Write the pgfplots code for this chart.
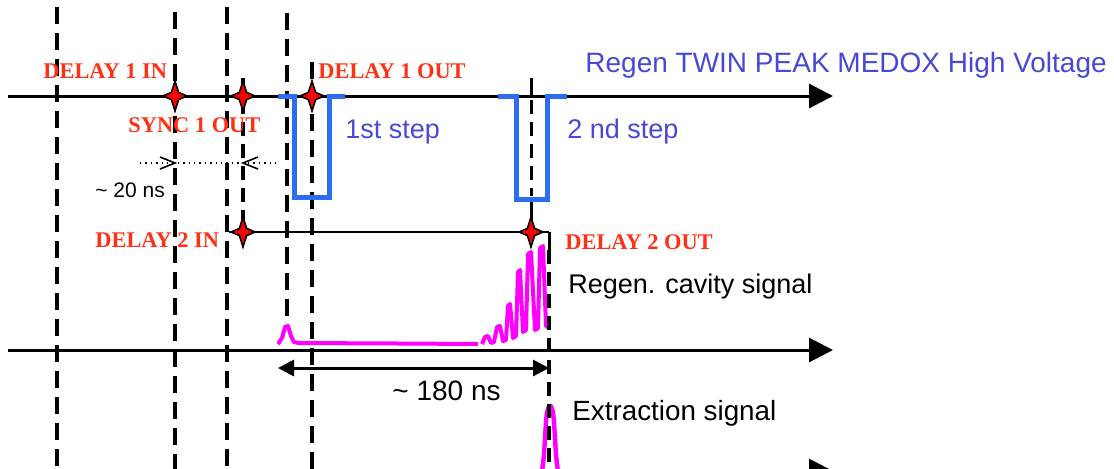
\documentclass[border=0pt]{standalone}
\usepackage{pgfplots}
\pgfplotsset{compat=1.18}
\usepackage{fontspec}
\setmainfont{Liberation Serif}
\newfontfamily\arial{Liberation Sans}
\usetikzlibrary{arrows.meta}
\definecolor{lblred}{RGB}{255,48,20}
\definecolor{txtblue}{RGB}{72,72,215}
\definecolor{pulseblue}{RGB}{45,110,240}
\definecolor{mag}{RGB}{255,0,255}
\pgfdeclareplotmark{star4}{%
  \pgfpathmoveto{\pgfpoint{0pt}{1.25\pgfplotmarksize}}%
  \pgfpathlineto{\pgfpoint{0.3\pgfplotmarksize}{0.3\pgfplotmarksize}}%
  \pgfpathlineto{\pgfpoint{\pgfplotmarksize}{0pt}}%
  \pgfpathlineto{\pgfpoint{0.3\pgfplotmarksize}{-0.3\pgfplotmarksize}}%
  \pgfpathlineto{\pgfpoint{0pt}{-1.25\pgfplotmarksize}}%
  \pgfpathlineto{\pgfpoint{-0.3\pgfplotmarksize}{-0.3\pgfplotmarksize}}%
  \pgfpathlineto{\pgfpoint{-\pgfplotmarksize}{0pt}}%
  \pgfpathlineto{\pgfpoint{-0.3\pgfplotmarksize}{0.3\pgfplotmarksize}}%
  \pgfpathclose
  \pgfusepathqfillstroke
}
\tikzset{
  red lbl/.style={anchor=base west, inner sep=0pt, text=lblred, font=\bfseries\fontsize{11.2}{13}\selectfont},
  blue lbl/.style={anchor=base west, inner sep=0pt, text=txtblue, font=\arial\fontsize{13.5}{16}\selectfont},
  blk lbl/.style={anchor=base west, inner sep=0pt, text=black, font=\arial\fontsize{13.5}{16}\selectfont},
}
\begin{document}
\begin{tikzpicture}
\begin{axis}[at={(0,0)}, anchor=south west, scale only axis,
  width=557pt, height=234pt,
  xmin=0, xmax=1114, ymin=0, ymax=468, y dir=reverse,
  hide axis, clip=false]
% dashed vertical lines
\pgfplotsset{vdash/.style={black, line width=2.2pt, dash pattern=on 8.5pt off 4.5pt, no marks}}
\addplot[vdash] coordinates {(57,7) (57,475)};
\addplot[vdash] coordinates {(175,12) (175,475)};
\addplot[vdash] coordinates {(227,7) (227,475)};
\addplot[vdash] coordinates {(287,13) (287,322)};
\addplot[vdash] coordinates {(312,62) (312,475)};
\addplot[black, line width=1.6pt, no marks] coordinates {(243,78) (243,100)};
\addplot[black, line width=1.8pt, dash pattern=on 7pt off 4pt, no marks] coordinates {(243,100) (243,232)};
\addplot[black, line width=1.5pt, no marks] coordinates {(531,78) (531,98)};
\addplot[black, line width=1.5pt, dash pattern=on 7pt off 4pt, no marks] coordinates {(531,100) (531,196)};
\addplot[black, line width=1.5pt, no marks] coordinates {(531,198) (531,232)};
\addplot[black, line width=1.5pt, no marks] coordinates {(549,232) (549,250)};
% time axes
\addplot[black, line width=1.5pt, no marks, -{Triangle[length=12pt,width=12pt]}] coordinates {(8,96) (833,96)};
\addplot[black, line width=1.5pt, no marks, -{Triangle[length=12pt,width=12pt]}] coordinates {(8,350) (833,350)};
\addplot[black, line width=1.5pt, no marks, -{Triangle[length=12pt,width=12pt]}] coordinates {(8,471) (833,471)};
% delay 2 line
\addplot[black, line width=1pt, no marks] coordinates {(229,232) (549,232)};
% HV pulses
\addplot[pulseblue, line width=2.5pt, no marks] coordinates {(278,96) (294,96) (294,197) (329,197) (329,96) (345,96)};
\addplot[pulseblue, line width=2.5pt, no marks] coordinates {(498,96) (516,96) (516,199) (547,199) (547,96) (567,96)};
% ~20 ns dotted
\addplot[black, line width=0.7pt, dotted, no marks] coordinates {(140,163) (278,163)};
\addplot[black, line width=0.8pt, no marks] coordinates {(160,157) (175,163) (160,169)};
\addplot[black, line width=0.8pt, no marks] coordinates {(258,157) (243,163) (258,169)};
% ~180 ns
\addplot[black, line width=1.5pt, no marks, {Triangle[length=8pt,width=8pt]}-{Triangle[length=8pt,width=8pt]}] coordinates {(278,368) (549,368)};
% regen cavity signal
\addplot[mag, line width=2pt, no marks, line join=round] coordinates {
(278,344) (282,338) (285,327) (288,326) (291,336) (294,342) (299,343) (400,343.5) (478,344)};
\addplot[mag, line width=2pt, no marks, line join=round] coordinates {
(482,344) (485,337) (488,336) (491,343) (494,342) (497,327) (500,326) (503,341) (506,340) (508,306) (510,304) (513,338) (516,336) (518,272) (520,270) (523,332) (526,330) (528,254) (531,252) (535,330) (538,328) (540,248) (543,246) (546,326) (549,328)};
% extraction signal
\addplot[mag, line width=2.2pt, no marks, line join=round] coordinates {
(542,472) (544,455) (545,438) (546,422) (547,412) (549,406) (551,406) (553,412) (554,422) (555,438) (556,455) (558,472)};
\addplot[black, line width=1.6pt, dash pattern=on 7pt off 4pt, no marks] coordinates {(549,250) (549,475)};
% stars
\addplot[only marks, mark=star4, mark size=6pt, fill=red, draw=black, line width=0.8pt] coordinates {(175,96) (243,96) (312,96) (243,232) (531,232)};
% labels
\node[red lbl] at (axis cs:43,78) {DELAY 1 IN};
\node[red lbl] at (axis cs:128,132) {SYNC 1 OUT};
\node[red lbl] at (axis cs:318,78) {DELAY 1 OUT};
\node[red lbl] at (axis cs:95,247) {DELAY 2 IN};
\node[red lbl] at (axis cs:565,249) {DELAY 2 OUT};
\node[blue lbl, font=\arial\fontsize{14}{16}\selectfont] at (axis cs:585,72) {Regen TWIN PEAK MEDOX High Voltage};
\node[blue lbl] at (axis cs:345,138) {1st step};
\node[blue lbl] at (axis cs:567,138) {2 nd step};
\node[blk lbl] at (axis cs:568,293) {Regen. cavity signal};
\node[blk lbl, font=\arial\fontsize{10.5}{12}\selectfont] at (axis cs:95,197) {\textasciitilde\ 20 ns};
\node[blk lbl, font=\arial\fontsize{14}{16}\selectfont] at (axis cs:392,400) {\textasciitilde\ 180 ns};
\node[blk lbl, font=\arial\fontsize{13.9}{16}\selectfont] at (axis cs:572,420) {Extraction signal};
\end{axis}
\pgfresetboundingbox
\path (0,0) rectangle (557pt,234pt);
\end{tikzpicture}
\end{document}
